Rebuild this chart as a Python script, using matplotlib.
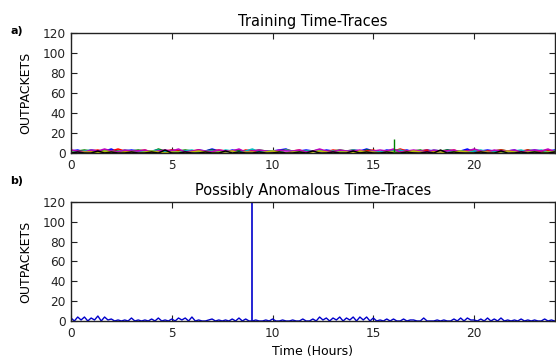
import numpy as np
import matplotlib
matplotlib.use("Agg")
import matplotlib.pyplot as plt

# training traces, one value every 20 minutes over 24 h (OUTPACKETS)
train_b = [2, 3, 1, 3, 2, 2, 4, 1, 2, 3, 2, 1, 2, 3, 1, 3, 2, 2, 1, 3,
           2, 4, 2, 1, 3, 2, 2, 3, 1, 2, 2, 3, 4, 1, 2, 3, 2, 1, 3, 2,
           2, 1, 3, 2, 4, 2, 1, 3, 2, 2, 3, 1, 2, 3, 2, 1, 3, 2, 2, 4,
           1, 2, 3, 2, 1, 2, 3, 1, 2, 3, 2, 2, 3]
train_g = [1, 2, 3, 2, 1, 3, 2, 2, 1, 2, 3, 2, 1, 4, 2, 1, 2, 3, 2, 1,
           2, 3, 1, 2, 2, 3, 1, 2, 3, 2, 1, 2, 3, 2, 1, 2, 2, 3, 1, 2,
           3, 2, 2, 1, 3, 2, 1, 2, 3, 2, 1, 2, 3, 1, 2, 2, 3, 2, 1, 2,
           3, 2, 1, 2, 3, 2, 2, 1, 3, 2, 1, 2, 2]
train_r = [3, 1, 2, 2, 3, 1, 2, 4, 2, 1, 2, 3, 1, 2, 2, 3, 2, 1, 2, 3,
           1, 2, 3, 2, 2, 1, 3, 2, 1, 2, 2, 1, 3, 2, 3, 1, 2, 2, 1, 3,
           2, 2, 3, 1, 2, 3, 1, 2, 2, 4, 2, 1, 2, 3, 1, 2, 2, 3, 1, 2,
           3, 1, 2, 2, 3, 2, 1, 2, 3, 1, 2, 3, 2]
train_c = [2, 1, 2, 3, 1, 2, 2, 1, 3, 2, 1, 2, 2, 3, 1, 2, 1, 2, 3, 1,
           2, 2, 1, 3, 2, 1, 2, 4, 1, 2, 2, 1, 3, 2, 1, 2, 2, 3, 1, 2,
           1, 2, 3, 2, 1, 2, 1, 2, 2, 3, 1, 2, 2, 1, 3, 2, 1, 2, 2, 1,
           2, 3, 1, 2, 1, 2, 2, 3, 1, 2, 3, 1, 2]
train_m = [3, 2, 1, 3, 2, 4, 2, 1, 3, 2, 2, 3, 1, 2, 3, 2, 4, 1, 2, 3,
           2, 1, 3, 2, 2, 4, 1, 2, 3, 2, 1, 3, 2, 2, 3, 1, 2, 4, 2, 1,
           3, 2, 2, 3, 1, 2, 3, 2, 4, 1, 2, 3, 2, 1, 3, 2, 2, 3, 1, 2,
           4, 2, 1, 3, 2, 2, 3, 1, 2, 3, 2, 4, 1]
train_y = [1, 0, 1, 1, 0, 2, 1, 0, 1, 1, 0, 1, 2, 1, 0, 1, 1, 0, 1, 2,
           1, 0, 1, 1, 2, 0, 1, 1, 0, 1, 2, 1, 0, 1, 1, 0, 1, 2, 1, 0,
           1, 1, 0, 2, 1, 1, 0, 1, 1, 0, 1, 2, 1, 0, 1, 1, 0, 1, 2, 1,
           0, 1, 1, 0, 1, 2, 1, 0, 1, 1, 0, 1, 1]
train_k = [0, 1, 0, 0, 2, 0, 1, 0, 0, 1, 0, 0, 1, 0, 3, 0, 0, 1, 0, 0,
           1, 0, 0, 2, 0, 1, 0, 0, 1, 0, 0, 1, 0, 0, 1, 0, 2, 0, 0, 1,
           0, 0, 2, 0, 1, 0, 0, 1, 0, 0, 1, 0, 0, 1, 0, 3, 0, 1, 0, 0,
           0, 1, 0, 0, 2, 0, 0, 1, 0, 1, 0, 0, 1]
train_series = [train_b, train_g, train_r, train_c, train_m, train_y, train_k]
train_colors = ['b', 'g', 'r', 'c', 'm', 'y', 'k']

# single short burst in the training set
train_peak_hour = 16.05
train_peak_value = 14

# possibly anomalous trace, one value every 10 minutes
anom = [3, 0, 4, 1, 4, 0,  3, 1, 5, 0, 4, 1,  2, 0, 1, 0, 1, 0,
        3, 0, 1, 0, 1, 0,  2, 0, 3, 0, 1, 0,  2, 0, 3, 1, 3, 0,
        4, 0, 1, 0, 0, 1,  2, 0, 1, 0, 1, 0,  2, 0, 3, 0, 2, 0,
        0, 1, 0, 0, 1, 0,  2, 0, 0, 1, 0, 0,  1, 0, 0, 2, 0, 0,
        2, 0, 4, 1, 3, 0,  3, 1, 4, 0, 3, 1,  4, 0, 4, 1, 4, 0,
        3, 0, 1, 0, 2, 0,  2, 0, 0, 2, 0, 1,  1, 0, 0, 3, 0, 0,
        0, 1, 0, 1, 0, 0,  2, 0, 3, 0, 3, 1,  1, 0, 2, 0, 3, 0,
        2, 0, 3, 0, 1, 0,  1, 0, 2, 0, 1, 0,  1, 0, 0, 2, 0, 1,
        0]
anom_peak_hour = 9.0
anom_peak_value = 400

fig = plt.figure(figsize=(5.56, 3.58), dpi=100)
ax1 = fig.add_axes([0.1277, 0.5726, 0.870, 0.3352])
ax2 = fig.add_axes([0.1277, 0.1034, 0.870, 0.3324])

for vals, col in zip(train_series, train_colors):
    ax1.plot(np.linspace(0, 24, len(vals)), vals, color=col, lw=1.1)
ax1.vlines(train_peak_hour, 0, train_peak_value, color='g', lw=1.0)

ax2.plot(np.linspace(0, 24, len(anom)), anom, color='#0000cc', lw=1.0)
ax2.vlines(anom_peak_hour, 0, anom_peak_value, color='#0000cc', lw=1.2)

ax1.set_title("Training Time-Traces", fontsize=10.5, pad=5)
ax2.set_title("Possibly Anomalous Time-Traces", fontsize=10.5, pad=5)
ax2.set_xlabel("Time (Hours)", fontsize=9, labelpad=4)

for ax in (ax1, ax2):
    ax.set_xlim(0, 24)
    ax.set_ylim(0, 120)
    ax.set_xticks([0, 5, 10, 15, 20])
    ax.set_yticks(range(0, 121, 20))
    ax.set_ylabel("OUTPACKETS", fontsize=9, labelpad=7)
    ax.tick_params(direction='in', top=True, right=True, length=4,
                   labelsize=8.7, pad=4, colors='#222222')
    for sp in ax.spines.values():
        sp.set_linewidth(1.0)
        sp.set_color('#222222')

fig.text(0.018, 0.905, "a)", fontsize=8, fontweight='bold')
fig.text(0.018, 0.487, "b)", fontsize=8, fontweight='bold')

fig.savefig("out.png", dpi=100)
